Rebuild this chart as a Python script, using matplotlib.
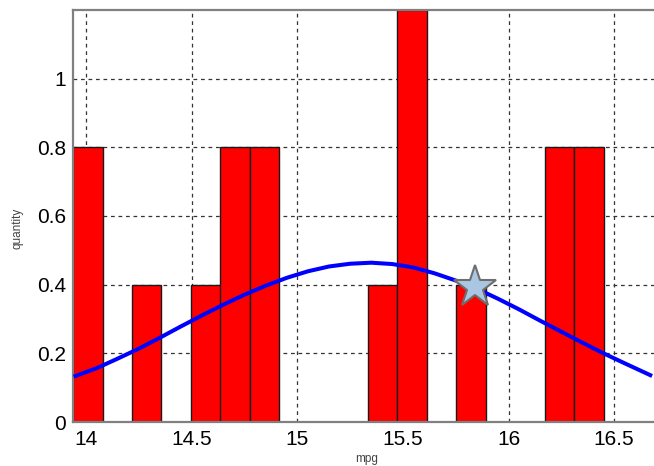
import matplotlib
matplotlib.use("Agg")
import matplotlib.pyplot as plt

# ---- data ----
bin_centers = [14.007, 14.286, 14.566, 14.705, 14.845, 15.404, 15.543, 15.823, 16.241, 16.381]
bin_heights = [0.8, 0.4, 0.4, 0.8, 0.8, 0.4, 1.2, 0.4, 0.8, 0.8]
bin_width = 0.1397

curve_x = [13.94, 14.05, 14.15, 14.25, 14.35, 14.45, 14.55, 14.65, 14.75, 14.85,
           14.95, 15.05, 15.15, 15.25, 15.35, 15.45, 15.55, 15.65, 15.75, 15.85,
           15.95, 16.05, 16.15, 16.25, 16.35, 16.45, 16.55, 16.68]
curve_y = [0.132, 0.157, 0.185, 0.214, 0.246, 0.279, 0.311, 0.342, 0.371, 0.397,
           0.420, 0.439, 0.453, 0.461, 0.464, 0.460, 0.450, 0.433, 0.412, 0.388,
           0.359, 0.328, 0.295, 0.263, 0.231, 0.200, 0.171, 0.134]

star_x = [15.842]
star_y = [0.394]

xticks = [14, 14.5, 15, 15.5, 16, 16.5]
xticklabels = ["14", "14.5", "15", "15.5", "16", "16.5"]
yticks = [0, 0.2, 0.4, 0.6, 0.8, 1]
yticklabels = ["0", "0.2", "0.4", "0.6", "0.8", "1"]

plt.rcParams['font.family'] = ['Liberation Sans', 'DejaVu Sans']

fig = plt.figure(figsize=(6.54, 4.66), dpi=100)
ax = fig.add_axes([73/654, 1 - 422/466, 1 - 73/654 + 0.01, (422 - 10)/466])

ax.bar(bin_centers, bin_heights, width=bin_width, color='#ff0000',
       edgecolor='#1a1a1a', linewidth=1.0, zorder=2)
ax.plot(curve_x, curve_y, color='#0000ff', linewidth=2.9, zorder=3,
        solid_capstyle='butt', solid_joinstyle='round')
ax.plot(star_x, star_y, marker='*', markersize=32, markerfacecolor='#a9c6e2',
        markeredgecolor='#6e6e6e', markeredgewidth=1.5, linestyle='none', zorder=4)

ax.set_xlim(13.937, 16.72)
ax.set_ylim(0, 1.2)
ax.set_xticks(xticks)
ax.set_xticklabels(xticklabels)
ax.set_yticks(yticks)
ax.set_yticklabels(yticklabels)
ax.tick_params(axis='both', length=0, labelsize=15, colors='black')
ax.tick_params(axis='x', pad=6)
ax.tick_params(axis='y', pad=5)

ax.grid(True, color='#333333', linestyle=(0, (3, 3)), linewidth=0.9, zorder=0)
ax.set_axisbelow(True)

for s in ax.spines.values():
    s.set_color('#808080')
    s.set_linewidth(1.6)
ax.spines['right'].set_visible(False)

ax.set_xlabel('mpg', fontsize=8.5, color='#444444')
ax.xaxis.set_label_coords(0.5, -0.075)
ax.set_ylabel('quantity', fontsize=8.5, color='#444444')
ax.yaxis.set_label_coords(-0.085, 0.47)

fig.savefig('out.png', dpi=100)
